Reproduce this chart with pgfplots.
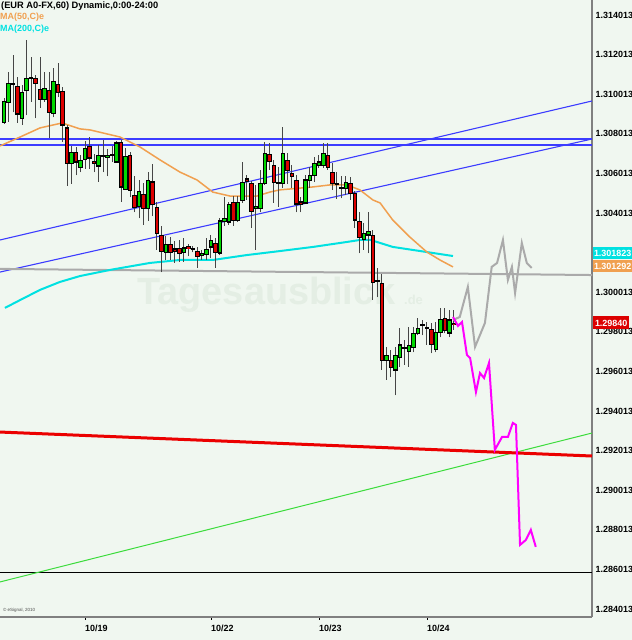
\documentclass[border=0pt]{standalone}
\usepackage{fontspec}
\setmainfont{Liberation Sans}
\usepackage{pgfplots}
\usepackage{pgfplotstable}
\pgfplotsset{compat=1.18}
\definecolor{bg}{RGB}{240,247,240}
\definecolor{cgreen}{RGB}{0,215,0}
\definecolor{cred}{RGB}{220,0,0}
\definecolor{wick}{RGB}{70,70,70}
\definecolor{blueln}{RGB}{60,60,255}
\definecolor{orangeln}{RGB}{240,160,80}
\definecolor{cyanln}{RGB}{0,225,225}
\definecolor{greyln}{RGB}{170,170,170}
\definecolor{magln}{RGB}{255,0,255}
\definecolor{redln}{RGB}{235,0,0}
\definecolor{greenln}{RGB}{60,220,60}
\definecolor{axgrey}{RGB}{128,128,128}
\definecolor{wm}{RGB}{228,238,228}

\pgfplotstableread{
x o h l c
0 1.30861 1.30982 1.30851 1.30967
1 1.30962 1.31113 1.30861 1.31058
2 1.31053 1.31199 1.30911 1.31058
3 1.31038 1.31088 1.30856 1.30901
4 1.30881 1.31048 1.30846 1.31012
5 1.31023 1.31275 1.30896 1.31083
6 1.31083 1.31189 1.30962 1.31088
7 1.31083 1.31098 1.30881 1.31058
8 1.31028 1.31189 1.30932 1.30977
9 1.30977 1.31113 1.30962 1.31033
10 1.31023 1.31113 1.30780 1.30911
11 1.30906 1.31134 1.30886 1.31068
12 1.31053 1.31159 1.30987 1.31012
13 1.31017 1.31038 1.30760 1.30846
14 1.30831 1.30846 1.30538 1.30654
15 1.30654 1.30740 1.30548 1.30709
16 1.30709 1.30735 1.30593 1.30659
17 1.30634 1.30694 1.30608 1.30669
18 1.30674 1.30765 1.30624 1.30730
19 1.30735 1.30785 1.30624 1.30679
20 1.30664 1.30699 1.30608 1.30654
21 1.30639 1.30745 1.30558 1.30694
22 1.30689 1.30770 1.30608 1.30691
23 1.30684 1.30725 1.30588 1.30694
24 1.30694 1.30740 1.30659 1.30696
25 1.30659 1.30765 1.30654 1.30755
26 1.30760 1.30770 1.30457 1.30533
27 1.30523 1.30730 1.30518 1.30689
28 1.30694 1.30709 1.30482 1.30518
29 1.30492 1.30588 1.30406 1.30432
30 1.30432 1.30568 1.30376 1.30512
31 1.30497 1.30553 1.30341 1.30427
32 1.30427 1.30608 1.30361 1.30568
33 1.30558 1.30649 1.30386 1.30442
34 1.30432 1.30457 1.30215 1.30300
35 1.30290 1.30336 1.30103 1.30209
36 1.30204 1.30285 1.30164 1.30240
37 1.30245 1.30280 1.30164 1.30204
38 1.30220 1.30260 1.30149 1.30209
39 1.30225 1.30265 1.30154 1.30199
40 1.30204 1.30275 1.30154 1.30225
41 1.30230 1.30245 1.30184 1.30220
42 1.30220 1.30235 1.30204 1.30222
43 1.30209 1.30230 1.30124 1.30184
44 1.30189 1.30215 1.30164 1.30199
45 1.30194 1.30275 1.30164 1.30220
46 1.30230 1.30290 1.30174 1.30265
47 1.30250 1.30275 1.30124 1.30204
48 1.30199 1.30376 1.30189 1.30361
49 1.30361 1.30482 1.30336 1.30376
50 1.30356 1.30457 1.30341 1.30442
51 1.30457 1.30487 1.30336 1.30366
52 1.30366 1.30487 1.30356 1.30457
53 1.30467 1.30659 1.30452 1.30558
54 1.30573 1.30593 1.30467 1.30563
55 1.30553 1.30563 1.30326 1.30411
56 1.30427 1.30543 1.30215 1.30437
57 1.30427 1.30619 1.30406 1.30553
58 1.30553 1.30760 1.30543 1.30704
59 1.30699 1.30755 1.30619 1.30664
60 1.30644 1.30669 1.30452 1.30558
61 1.30553 1.30634 1.30432 1.30555
62 1.30553 1.30836 1.30528 1.30704
63 1.30669 1.30704 1.30548 1.30619
64 1.30603 1.30644 1.30528 1.30588
65 1.30568 1.30593 1.30406 1.30447
66 1.30457 1.30482 1.30406 1.30447
67 1.30452 1.30593 1.30447 1.30568
68 1.30568 1.30634 1.30528 1.30593
69 1.30593 1.30684 1.30558 1.30654
70 1.30639 1.30694 1.30629 1.30659
71 1.30644 1.30755 1.30629 1.30704
72 1.30694 1.30755 1.30619 1.30634
73 1.30608 1.30654 1.30518 1.30553
74 1.30548 1.30608 1.30472 1.30550
75 1.30528 1.30588 1.30477 1.30530
76 1.30528 1.30588 1.30492 1.30558
77 1.30553 1.30583 1.30467 1.30502
78 1.30502 1.30512 1.30326 1.30366
79 1.30361 1.30406 1.30199 1.30280
80 1.30270 1.30351 1.30215 1.30300
81 1.30290 1.30406 1.30199 1.30310
82 1.30290 1.30315 1.29962 1.30053
83 1.30058 1.30124 1.29977 1.30060
84 1.30048 1.30093 1.29609 1.29659
85 1.29659 1.29725 1.29558 1.29684
86 1.29659 1.29710 1.29573 1.29624
87 1.29609 1.29725 1.29482 1.29684
88 1.29674 1.29821 1.29624 1.29735
89 1.29725 1.29760 1.29634 1.29720
90 1.29704 1.29826 1.29624 1.29735
91 1.29725 1.29826 1.29699 1.29795
92 1.29795 1.29871 1.29785 1.29821
93 1.29836 1.29861 1.29785 1.29838
94 1.29821 1.29851 1.29735 1.29823
95 1.29811 1.29846 1.29694 1.29735
96 1.29710 1.29851 1.29699 1.29800
97 1.29800 1.29922 1.29775 1.29866
98 1.29871 1.29922 1.29795 1.29811
99 1.29795 1.29912 1.29775 1.29861
100 1.29846 1.29912 1.29811 1.29840
}\candles

\pgfplotstableread{
x y
-0.9 1.30740
3.56 1.30785
8.0 1.30831
12.9 1.30856
16.9 1.30826
19.1 1.30821
25.8 1.30785
30.2 1.30735
34.7 1.30669
39.1 1.30608
42.9 1.30568
46.4 1.30507
50.2 1.30487
56.2 1.30487
59.1 1.30507
61.3 1.30518
68.7 1.30533
72.4 1.30543
76.2 1.30543
79.1 1.30518
82.0 1.30467
83.6 1.30452
86.4 1.30366
90.2 1.30280
94.0 1.30204
96.9 1.30164
99.8 1.30129
}\maF

\pgfplotstableread{
x y
0.2 1.29922
3.6 1.29962
8.0 1.30013
12.4 1.30053
16.9 1.30083
23.6 1.30114
32.4 1.30149
39.1 1.30164
46.4 1.30164
54.0 1.30189
61.3 1.30209
68.7 1.30230
76.2 1.30255
79.1 1.30265
81.5 1.30265
86.4 1.30230
94.0 1.30204
99.8 1.30184
}\maT

\pgfplotstableread{
x y
99.8 1.29861
101.3 1.29876
103.1 1.30028
104.7 1.29725
106.9 1.29846
108.4 1.30129
109.6 1.30149
110.9 1.30265
112.0 1.30063
112.9 1.30129
113.6 1.29997
115.1 1.30250
116.2 1.30149
117.3 1.30124
}\projG

\pgfplotstableread{
x y
99.8 1.29876
100.9 1.29831
101.8 1.29851
102.9 1.29684
103.6 1.29669
104.9 1.29497
105.8 1.29593
106.7 1.29568
107.8 1.29644
109.1 1.29205
110.7 1.29270
112.0 1.29270
113.1 1.29341
113.8 1.29331
114.7 1.28725
116.0 1.28750
117.1 1.28801
118.2 1.28715
}\projM

\begin{document}
\begin{tikzpicture}
\fill[bg] (0,-23bp) rectangle (632bp,617bp);
\begin{axis}[
  at={(0,0)}, anchor=south west,
  scale only axis, width=592bp, height=617bp,
  xmin=-0.9, xmax=130.7,
  ymin=1.283609, ymax=1.314771,
  clip=false,
  axis x line*=bottom, axis y line*=right,
  axis line style={draw=axgrey, line width=1.5bp, -},
  scaled y ticks=false,
  ytick={1.284013,1.286013,1.288013,1.290013,1.292013,1.294013,1.296013,1.298013,1.300013,1.304013,1.306013,1.308013,1.310013,1.312013,1.314013},
  yticklabels={1.284013,1.286013,1.288013,1.290013,1.292013,1.294013,1.296013,1.298013,1.300013,1.304013,1.306013,1.308013,1.310013,1.312013,1.314013},
  xtick={18,46,70,94},
  xticklabels={10/19,10/22,10/23,10/24},
  tick align=outside,
  major tick length=2.5bp,
  ytick style={draw=none},
  xtick style={draw=black, line width=0.8bp},
  ticklabel style={font=\bfseries\fontsize{9}{10}\selectfont, text=black},
  yticklabel style={anchor=west, inner sep=0pt, xshift=1bp},
  xticklabel style={anchor=north west, inner sep=0pt, yshift=-5bp},
  candle/.style={only marks, mark size=0pt, mark options={draw=none, fill=none}},
]
% watermark
\node[anchor=base west, inner sep=0pt, text=wm, font=\bfseries\fontsize{38}{40}\selectfont] at (axis cs:29.6,1.29937) {Tagesausblick};
\node[anchor=base west, inner sep=0pt, text=wm, font=\bfseries\fontsize{13}{14}\selectfont] at (axis cs:88.9,1.29937) {.de};

% lines
\addplot[draw=blueln, line width=1.4bp] coordinates {(-0.9,1.307751) (130.7,1.307751)};
\addplot[draw=blueln, line width=1.4bp] coordinates {(-0.9,1.307448) (130.7,1.307448)};
\addplot[draw=blueln, line width=1.1bp] coordinates {(-0.9,1.30265) (130.7,1.30967)};
\addplot[draw=blueln, line width=1.1bp] coordinates {(-0.9,1.30103) (130.7,1.30775)};
\addplot[greyln, line width=2bp] coordinates {(-0.9,1.30119) (130.7,1.30088)};
\addplot[black, line width=0.8bp] coordinates {(-0.9,1.28588) (130.7,1.28588)};
\addplot[greenln, line width=1bp] coordinates {(-0.9,1.28538) (130.7,1.29290)};
\addplot[redln, line width=3bp] coordinates {(-0.9,1.29295) (130.7,1.29174)};
\addplot[cyanln, line width=2bp] table[x=x,y=y] {\maT};
\addplot[orangeln, line width=1.5bp] table[x=x,y=y] {\maF};

% wicks
\addplot[candle, error bars/.cd, y dir=plus, y explicit, error mark=none,
  error bar style={draw=wick, line width=1bp}]
  table[x=x, y=l, y error expr=\thisrow{h}-\thisrow{l}] {\candles};
% body outlines
\addplot[candle, error bars/.cd, y dir=both, y explicit, error mark=none,
  error bar style={draw=black, line width=4.2bp}]
  table[x=x, y expr=(\thisrow{o}+\thisrow{c})/2, y error expr=abs(\thisrow{c}-\thisrow{o})/2+0.000028] {\candles};
% green bodies
\addplot[candle, error bars/.cd, y dir=both, y explicit, error mark=none,
  error bar style={draw=cgreen, line width=2.7bp}]
  table[x=x, y expr={\thisrow{c}>\thisrow{o} ? (\thisrow{o}+\thisrow{c})/2 : nan}, y error expr={max(abs(\thisrow{c}-\thisrow{o})/2-0.000028,0)}] {\candles};
% red bodies
\addplot[candle, error bars/.cd, y dir=both, y explicit, error mark=none,
  error bar style={draw=cred, line width=2.7bp}]
  table[x=x, y expr={\thisrow{c}<\thisrow{o} ? (\thisrow{o}+\thisrow{c})/2 : nan}, y error expr={max(abs(\thisrow{c}-\thisrow{o})/2-0.000028,0)}] {\candles};

% projections
\addplot[greyln, line width=2bp] table[x=x,y=y] {\projG};
\addplot[magln, line width=2bp] table[x=x,y=y] {\projM};

% texts
\node[anchor=north west, inner sep=0pt, xshift=1bp, yshift=-1.5bp, font=\bfseries\fontsize{9.3}{10}\selectfont] at (rel axis cs:0,1) {(EUR A0-FX,60) Dynamic,0:00-24:00};
\node[anchor=north west, inner sep=0pt, xshift=0bp, yshift=-12.5bp, text=orangeln, font=\bfseries\fontsize{9}{10}\selectfont] at (rel axis cs:0,1) {MA(50,C)e};
\node[anchor=north west, inner sep=0pt, xshift=0bp, yshift=-24.5bp, text=cyanln, font=\bfseries\fontsize{9}{10}\selectfont] at (rel axis cs:0,1) {MA(200,C)e};
\node[anchor=south west, inner sep=0pt, xshift=3bp, yshift=4bp, text=black!70, font=\fontsize{4.5}{5}\selectfont] at (rel axis cs:0,0) {© eSignal, 2010};

% value boxes
\node[anchor=west, fill=cyanln, text=white, inner xsep=1bp, inner ysep=0pt, minimum height=12bp, xshift=0.8bp, font=\bfseries\fontsize{9}{10}\selectfont] at (axis cs:130.7,1.30199) {1.301823};
\node[anchor=west, fill=orangeln, text=white, inner xsep=1bp, inner ysep=0pt, minimum height=12bp, xshift=0.8bp, font=\bfseries\fontsize{9}{10}\selectfont] at (axis cs:130.7,1.30134) {1.301292};
\node[anchor=west, fill=cred, text=white, inner xsep=2bp, inner ysep=0pt, minimum height=13bp, xshift=0.8bp, font=\bfseries\fontsize{9}{10}\selectfont] at (axis cs:130.7,1.29846) {1.29840};
\end{axis}
\pgfresetboundingbox
\path (0,-23bp) rectangle (632bp,617bp);
\end{tikzpicture}
\end{document}
